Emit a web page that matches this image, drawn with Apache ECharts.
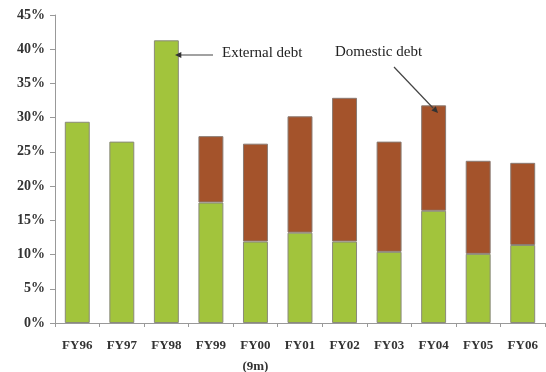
<!DOCTYPE html>
<html>
<head>
<meta charset="utf-8">
<script src="https://cdn.jsdelivr.net/npm/echarts@6/dist/echarts.min.js"></script>
<style>
  html, body { margin: 0; padding: 0; background: #fff; }
  #chart { width: 546px; height: 372px; }
</style>
</head>
<body>
<div id="chart"></div>
<script>
const categories = ['FY96', 'FY97', 'FY98', 'FY99', 'FY00\n(9m)', 'FY01', 'FY02', 'FY03', 'FY04', 'FY05', 'FY06']
const externalDebt = [29.4, 26.5, 41.3, 17.6, 11.9, 13.2, 11.9, 10.4, 16.4, 10.1, 11.4]
const domesticDebt = [null, null, null, 9.7, 14.3, 17.0, 21.0, 16.1, 15.4, 13.6, 12.0]
const yTicks = [0, 5, 10, 15, 20, 25, 30, 35, 40, 45]

const green = '#a2c43c'
const brown = '#a4532b'
const font = '"Liberation Serif", "DejaVu Serif", serif'

// arrow head helper
const arrowHead = (x1, y1, x2, y2, size) => {
  const a = Math.atan2(y2 - y1, x2 - x1)
  const p1 = [x2 - size * Math.cos(a - 0.45), y2 - size * Math.sin(a - 0.45)]
  const p2 = [x2 - size * Math.cos(a + 0.45), y2 - size * Math.sin(a + 0.45)]
  return [[x2, y2], p1, p2]
}

const chart = echarts.init(document.getElementById('chart'))
chart.setOption({
  animation: false,
  grid: { left: 55, right: 1, top: 15, bottom: 49, outerBoundsMode: 'none' },
  xAxis: {
    type: 'category',
    data: categories,
    axisLine: { lineStyle: { color: '#999' } },
    axisTick: { show: true, length: 4, lineStyle: { color: '#999' } },
    axisLabel: {
      color: '#333',
      fontFamily: font,
      fontWeight: 'bold',
      fontSize: 13,
      margin: 12,
      lineHeight: 21,
      interval: 0
    }
  },
  yAxis: {
    type: 'value',
    min: yTicks[0],
    max: yTicks[yTicks.length - 1],
    interval: 5,
    splitLine: { show: false },
    axisLine: { show: true, lineStyle: { color: '#999' } },
    axisTick: { show: true, length: 5, lineStyle: { color: '#999' } },
    axisLabel: {
      color: '#333',
      fontFamily: font,
      fontWeight: 'bold',
      fontSize: 14,
      margin: 10,
      formatter: v => v + '%'
    }
  },
  series: [
    {
      name: 'External debt',
      type: 'bar',
      stack: 'debt',
      barWidth: '56%',
      data: externalDebt,
      itemStyle: { color: green, borderColor: '#8a8a7a', borderWidth: 1 }
    },
    {
      name: 'Domestic debt',
      type: 'bar',
      stack: 'debt',
      barWidth: '56%',
      data: domesticDebt,
      itemStyle: { color: brown, borderColor: '#8a7a72', borderWidth: 1 }
    }
  ],
  graphic: [
    {
      type: 'text',
      left: 222,
      top: 46,
      z: 100,
      style: { text: 'External debt', fontFamily: font, fontSize: 15, fill: '#222' }
    },
    {
      type: 'line',
      z: 100,
      shape: { x1: 213, y1: 55, x2: 180, y2: 55 },
      style: { stroke: '#444', lineWidth: 1.2 }
    },
    {
      type: 'polygon',
      z: 100,
      shape: { points: arrowHead(213, 55, 175, 55, 7) },
      style: { fill: '#333' }
    },
    {
      type: 'text',
      left: 335,
      top: 45,
      z: 100,
      style: { text: 'Domestic debt', fontFamily: font, fontSize: 15, fill: '#222' }
    },
    {
      type: 'line',
      z: 100,
      shape: { x1: 394, y1: 67, x2: 433, y2: 108 },
      style: { stroke: '#444', lineWidth: 1.2 }
    },
    {
      type: 'polygon',
      z: 100,
      shape: { points: arrowHead(394, 67, 438, 113, 7) },
      style: { fill: '#333' }
    }
  ]
})
</script>
</body>
</html>
